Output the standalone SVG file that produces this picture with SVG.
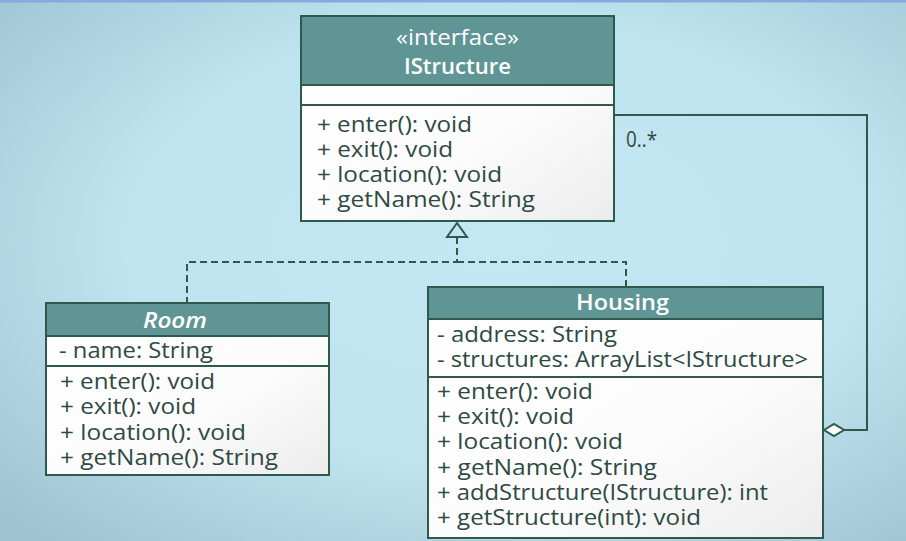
<svg xmlns="http://www.w3.org/2000/svg" width="906" height="541" viewBox="0 0 906 541">
<defs>
<radialGradient id="bg" cx="0.55" cy="0.45" r="0.75">
<stop offset="0" stop-color="#c4e7f3"/>
<stop offset="0.55" stop-color="#bfe3ef"/>
<stop offset="1" stop-color="#9ec2cf"/>
</radialGradient>
<linearGradient id="box" x1="0" y1="0" x2="1" y2="1">
<stop offset="0" stop-color="#ffffff"/>
<stop offset="0.6" stop-color="#fcfcfc"/>
<stop offset="1" stop-color="#ececec"/>
</linearGradient>
<style>
.hdr{fill:#5f9595;stroke:#2d5a4d;stroke-width:2}
.body{fill:url(#box);stroke:#2d5a4d;stroke-width:2}
.t{font-family:"Open Sans",Lato,"DejaVu Sans",sans-serif;font-size:21px;fill:#2e4a42}
.h{font-family:"Open Sans",Lato,"DejaVu Sans",sans-serif;font-size:21px;font-weight:600;fill:#ffffff}
.hn{font-weight:normal}
.ln{fill:none;stroke:#2d5a4d;stroke-width:2}
.dash{fill:none;stroke:#2d5a4d;stroke-width:2;stroke-dasharray:7 4}
</style>
</defs>
<rect x="0" y="0" width="906" height="541" fill="url(#bg)"/>
<rect x="0" y="0" width="906" height="2.5" fill="#86a9e2"/>

<g id="connectors">
<polyline class="dash" points="457,237 457,262 187,262 187,303"/>
<polyline class="dash" points="457,262 626,262 626,287"/>
<polygon points="457,223 447,237 467,237" fill="#c2e5f1" stroke="#2d5a4d" stroke-width="2"/>
<polyline class="ln" points="614,115 867,115 867,430 844,430"/>
<polygon points="824,430 834,424 844,430 834,436" fill="#ffffff" stroke="#2d5a4d" stroke-width="2"/>
<text class="t" x="626" y="147" textLength="31" lengthAdjust="spacingAndGlyphs">0..*</text>
</g>

<g id="IStructure">
<rect class="body" x="301" y="16" width="313" height="205"/>
<rect class="hdr" x="301" y="16" width="313" height="69"/>
<line class="ln" x1="301" y1="105" x2="614" y2="105"/>
<text class="h hn" x="396" y="45" textLength="123" lengthAdjust="spacingAndGlyphs">«interface»</text>
<text class="h" x="404" y="74" textLength="107" lengthAdjust="spacingAndGlyphs">IStructure</text>
<text class="t" x="317" y="132" textLength="155" lengthAdjust="spacingAndGlyphs">+ enter(): void</text>
<text class="t" x="317" y="157" textLength="136" lengthAdjust="spacingAndGlyphs">+ exit(): void</text>
<text class="t" x="317" y="182" textLength="185" lengthAdjust="spacingAndGlyphs">+ location(): void</text>
<text class="t" x="317" y="207" textLength="218" lengthAdjust="spacingAndGlyphs">+ getName(): String</text>
</g>

<g id="Room">
<rect class="body" x="46" y="303" width="283" height="172"/>
<rect class="hdr" x="46" y="303" width="283" height="33"/>
<line class="ln" x1="46" y1="366" x2="329" y2="366"/>
<text class="h" x="143" y="328" font-style="italic" textLength="64" lengthAdjust="spacingAndGlyphs">Room</text>
<text class="t" x="59" y="358" textLength="154" lengthAdjust="spacingAndGlyphs">- name: String</text>
<text class="t" x="60" y="389" textLength="155" lengthAdjust="spacingAndGlyphs">+ enter(): void</text>
<text class="t" x="60" y="414" textLength="136" lengthAdjust="spacingAndGlyphs">+ exit(): void</text>
<text class="t" x="60" y="440" textLength="186" lengthAdjust="spacingAndGlyphs">+ location(): void</text>
<text class="t" x="60" y="465" textLength="218" lengthAdjust="spacingAndGlyphs">+ getName(): String</text>
</g>

<g id="Housing">
<rect class="body" x="428" y="287" width="395" height="251"/>
<rect class="hdr" x="428" y="287" width="395" height="32"/>
<line class="ln" x1="428" y1="377" x2="823" y2="377"/>
<text class="h" x="576" y="310" textLength="93" lengthAdjust="spacingAndGlyphs">Housing</text>
<text class="t" x="437" y="342" textLength="180" lengthAdjust="spacingAndGlyphs">- address: String</text>
<text class="t" x="437" y="367" textLength="371" lengthAdjust="spacingAndGlyphs">- structures: ArrayList&lt;IStructure&gt;</text>
<text class="t" x="437" y="399" textLength="156" lengthAdjust="spacingAndGlyphs">+ enter(): void</text>
<text class="t" x="437" y="424" textLength="137" lengthAdjust="spacingAndGlyphs">+ exit(): void</text>
<text class="t" x="437" y="449" textLength="186" lengthAdjust="spacingAndGlyphs">+ location(): void</text>
<text class="t" x="437" y="475" textLength="220" lengthAdjust="spacingAndGlyphs">+ getName(): String</text>
<text class="t" x="437" y="500" textLength="331" lengthAdjust="spacingAndGlyphs">+ addStructure(IStructure): int</text>
<text class="t" x="437" y="525" textLength="264" lengthAdjust="spacingAndGlyphs">+ getStructure(int): void</text>
</g>
</svg>
